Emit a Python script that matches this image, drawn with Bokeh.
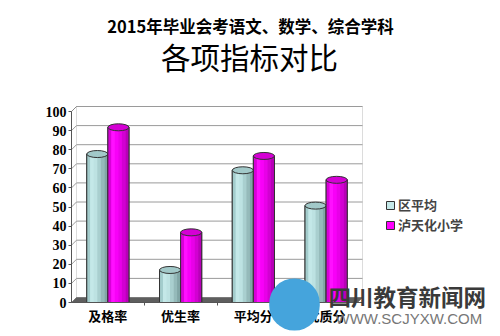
from bokeh.plotting import figure
from bokeh.models import (Range1d, Legend, LegendItem, Label, BoxAnnotation,
                          ColumnDataSource, FixedTicker)
from bokeh.transform import dodge
from bokeh.embed import file_html
from bokeh.resources import INLINE

# ---- data ----
categories = ["及格率", "优生率", "平均分", "优质分"]
series_names = ["区平均", "泸天化小学"]
district_avg = [76, 15.3, 67.5, 49]
school_vals = [90, 35, 75, 62.5]
y_ticks = [0, 10, 20, 30, 40, 50, 60, 70, 80, 90, 100]
title_line1 = "2015年毕业会考语文、数学、综合学科"
title_line2 = "各项指标对比"
watermark_cn = "四川教育新闻网"
watermark_en = "WWW.SCJYXW.COM"

# ---- geometry of the canvas (px) ----
WIDTH, HEIGHT = 500, 336
PX_LEFT, PX_RIGHT = 71, 362          # front axis / back-wall right edge
PX_ZERO, PX_HUNDRED = 302, 111       # y of value 0 and 100
n_cat = len(categories)
ux = (PX_RIGHT - PX_LEFT) / n_cat    # px per category
uy = (PX_ZERO - PX_HUNDRED) / 100.0  # px per value unit

cat_pos = [i + 0.5 for i in range(n_cat)]
src = ColumnDataSource(dict(x=cat_pos, avg=district_avg, school=school_vals))

p = figure(width=WIDTH, height=HEIGHT,
           x_range=Range1d(-PX_LEFT / ux, (WIDTH - PX_LEFT) / ux),
           y_range=Range1d(-(HEIGHT - PX_ZERO) / uy, 100 + PX_HUNDRED / uy),
           output_backend="svg", toolbar_location=None,
           min_border=0, min_border_left=0, min_border_right=0,
           min_border_top=0, min_border_bottom=0,
           background_fill_color="white", border_fill_color="white")
p.outline_line_color = None
p.grid.grid_line_color = None

# depth offsets of the back wall
dx = 5 / ux
dy = 5 / uy
lift = 3.3 / uy   # cylinder top ellipse centre sits half a depth behind the front

# back-wall gridlines (drawn from the tick list)
p.segment(x0=[0] * len(y_ticks), y0=y_ticks, x1=[dx] * len(y_ticks),
          y1=[t + dy for t in y_ticks], line_color="#9a9a9a", line_width=1)
p.segment(x0=[dx] * len(y_ticks), y0=[t + dy for t in y_ticks], x1=[n_cat] * len(y_ticks),
          y1=[t + dy for t in y_ticks], line_color="#9a9a9a", line_width=1)
# back wall frame
p.add_layout(BoxAnnotation(left=dx, right=n_cat, bottom=dy, top=100 + dy,
                           fill_alpha=0, line_color="#8a8a8a", line_width=1, level="underlay"))
p.segment(x0=[0], y0=[100], x1=[dx], y1=[100 + dy], line_color="#8a8a8a")
# floor
p.patch(x=[0, n_cat - dx, n_cat, dx], y=[0, 0, dy, dy], fill_color="#5e5e5e",
        line_color="#7a7a7a")

# axes drawn inside the frame
p.yaxis.fixed_location = 0
p.yaxis.bounds = (0, 100)
p.yaxis.ticker = FixedTicker(ticks=y_ticks)
p.yaxis.axis_line_color = "#555555"
p.yaxis.major_tick_line_color = "#555555"
p.yaxis.major_tick_out = 3
p.yaxis.major_tick_in = 0
p.yaxis.minor_tick_line_color = None
p.yaxis.major_label_standoff = 2
p.yaxis.major_label_text_font = "Liberation Serif"
p.yaxis.major_label_text_font_style = "bold"
p.yaxis.major_label_text_font_size = "14px"
p.yaxis.major_label_text_color = "black"

p.xaxis.fixed_location = 0
p.xaxis.bounds = (0, n_cat)
p.xaxis.ticker = FixedTicker(ticks=cat_pos, minor_ticks=list(range(1, n_cat)))
p.xaxis.major_label_overrides = {pos: c for pos, c in zip(cat_pos, categories)}
p.xaxis.axis_line_color = "#555555"
p.xaxis.major_tick_line_color = None
p.xaxis.major_tick_out = 0
p.xaxis.major_tick_in = 0
p.xaxis.minor_tick_line_color = "#555555"
p.xaxis.minor_tick_out = 3
p.xaxis.minor_tick_in = 0
p.xaxis.major_label_standoff = 0
p.xaxis.major_label_text_font = "Noto Sans CJK SC"
p.xaxis.major_label_text_font_style = "bold"
p.xaxis.major_label_text_font_size = "13px"
p.xaxis.major_label_text_color = "black"

W = 0.29
N = 6
styles = [
    dict(field="avg", off=-W / 2, base="#c4e8e8", top="#a2c9c9",
         strips=["#a3cccc", "#c4e8e8", "#bde2e2", "#a9cfcf", "#95baba", "#81a6a6"]),
    dict(field="school", off=W / 2, base="#ff00ff", top="#d400d4",
         strips=["#d800d8", "#ff10ff", "#f800f8", "#e800e8", "#d200d2", "#b800b8"]),
]

legend_items = []
for name, st in zip(series_names, styles):
    top = dodge(st["field"], lift)
    r = p.vbar(x=dodge("x", st["off"]), top=top, width=W,
               source=src, fill_color=st["base"], line_color="#333333", line_width=1)
    for k, c in enumerate(st["strips"]):
        p.vbar(x=dodge("x", st["off"] - W / 2 + (k + 0.5) * W / N), top=top,
               width=W / N + 0.002, source=src, fill_color=c, line_color=None)
    p.vbar(x=dodge("x", st["off"]), top=top, width=W,
           source=src, fill_alpha=0, line_color="#333333", line_width=1)
    p.ellipse(x=dodge("x", st["off"]), y=top, width=W, height=7,
              height_units="screen", source=src, fill_color=st["top"],
              line_color="#333333", line_width=1)
    legend_items.append(LegendItem(label=name, renderers=[r]))

legend = Legend(items=legend_items, location=(385, 102), glyph_width=10, glyph_height=10,
                label_text_font="Noto Sans CJK SC", label_text_font_style="bold",
                label_text_font_size="13px", label_standoff=3, spacing=1, padding=0,
                margin=0, border_line_color=None, background_fill_alpha=0, label_height=16)
p.add_layout(legend)

# titles
p.add_layout(Label(x=250, y=HEIGHT - 25, x_units="screen", y_units="screen", text=title_line1,
                   text_align="center", text_baseline="middle", text_font="Noto Sans CJK SC",
                   text_font_style="bold", text_font_size="16.5px", text_color="black"))
p.add_layout(Label(x=249, y=HEIGHT - 55, x_units="screen", y_units="screen", text=title_line2,
                   text_align="center", text_baseline="middle", text_font="Noto Sans CJK SC",
                   text_font_size="29.5px", text_color="black"))

# watermark
p.add_layout(Label(x=294, y=HEIGHT - 304, x_units="screen", y_units="screen", text=" ",
                   text_align="center", text_baseline="middle", text_font_size="2px",
                   background_fill_color="#45a4dc", padding=25, border_radius=25))
p.add_layout(Label(x=328, y=HEIGHT - 295, x_units="screen", y_units="screen", text=watermark_cn,
                   text_align="left", text_baseline="middle", text_font="Noto Sans CJK SC",
                   text_font_style="bold", text_font_size="22.5px", text_color="#3a3a3a"))
p.add_layout(Label(x=335, y=HEIGHT - 318, x_units="screen", y_units="screen", text=watermark_en,
                   text_align="left", text_baseline="middle", text_font="Liberation Sans",
                   text_font_size="15px", text_color="#777777"))

open("out.html", "w").write(file_html(p, INLINE))
